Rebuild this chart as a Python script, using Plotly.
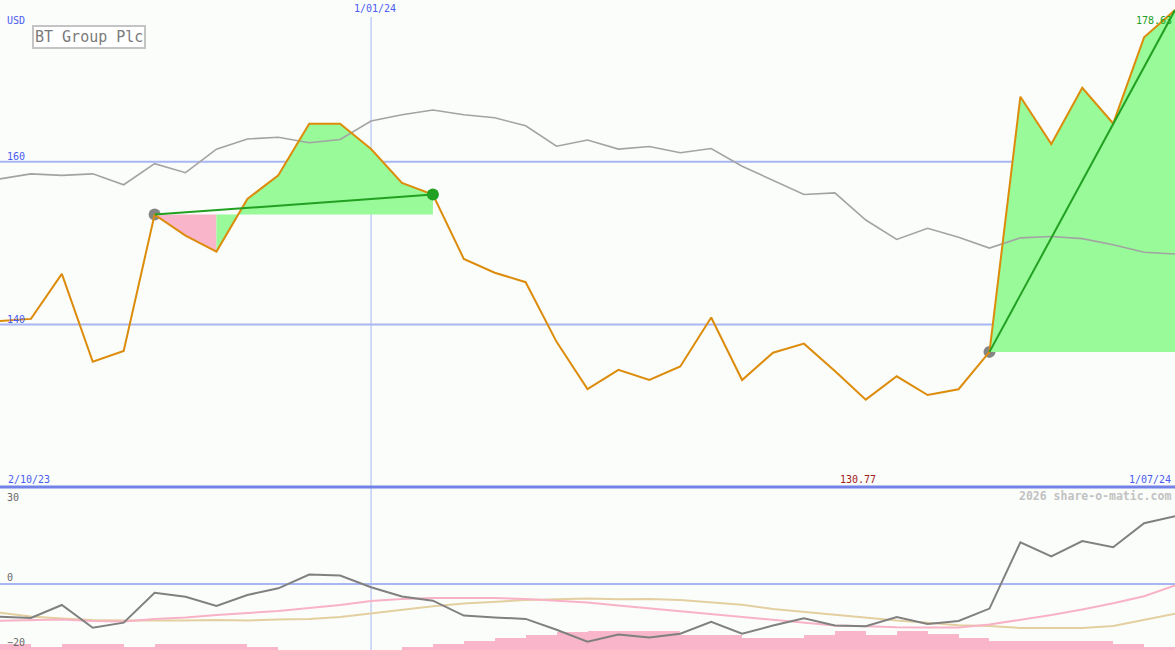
import plotly.graph_objects as go

# ---------------- data ----------------
date_labels = ["2/10/23", "1/01/24", "1/07/24"]
date_label_idx = [0, 12, 38]

price = [140.43, 140.69, 146.23, 135.42, 136.76, 153.51, 150.92, 148.96, 155.43, 158.33,
         164.68, 164.68, 161.56, 157.40, 155.97, 148.06, 146.36, 145.20, 137.87, 132.06,
         134.43, 133.18, 134.84, 140.86, 133.18, 136.54, 137.65, 134.30, 130.77, 133.64,
         131.34, 132.05, 136.64, 167.99, 162.17, 169.08, 164.70, 175.28, 178.63]

avg = [157.89, 158.51, 158.33, 158.51, 157.17, 159.77, 158.65, 161.55, 162.80, 163.00,
       162.33, 162.73, 165.01, 165.77, 166.35, 165.77, 165.40, 164.42, 161.90, 162.67,
       161.55, 161.87, 161.11, 161.63, 159.45, 157.75, 155.97, 156.17, 152.84, 150.45,
       151.83, 150.71, 149.39, 150.65, 150.81, 150.55, 149.79, 148.87, 148.67]

momentum = [-11.28, -11.72, -7.24, -15.07, -13.34, -3.00, -4.38, -7.59, -3.79, -1.48,
            3.28, 2.90, -1.14, -4.28, -5.76, -10.90, -11.55, -12.03, -15.79, -19.93,
            -17.41, -18.45, -17.17, -13.03, -17.17, -14.31, -11.79, -14.31, -14.55, -11.38,
            -13.79, -12.76, -8.48, 14.38, 9.52, 14.83, 12.66, 20.97, 23.38]

signal_pink = [-12.66, -12.40, -12.24, -12.76, -12.93, -12.07, -11.55, -10.69, -10.00, -9.31,
               -8.28, -7.24, -5.86, -5.17, -4.83, -4.83, -4.83, -5.17, -5.76, -6.38,
               -7.41, -8.41, -9.31, -10.28, -11.28, -12.41, -13.45, -14.31, -14.55, -14.93,
               -15.00, -15.00, -13.97, -12.41, -10.69, -8.79, -6.66, -4.21, -0.48]

signal_tan = [-9.90, -11.20, -11.90, -12.41, -12.59, -12.66, -12.59, -12.41, -12.59, -12.24,
              -12.07, -11.38, -10.17, -9.03, -7.66, -6.76, -6.14, -5.52, -5.28, -5.00,
              -5.28, -5.17, -5.52, -6.38, -7.14, -8.62, -9.66, -10.79, -11.79, -12.62,
              -13.34, -14.21, -14.48, -15.17, -15.17, -15.17, -14.48, -12.34, -10.21]

volume_bars = [2.07, 1.03, 2.07, 2.07, 1.03, 2.07, 2.07, 2.07, 1.03, 0.0,
               0.0, 0.0, 0.0, 1.03, 1.93, 3.21, 4.07, 5.07, 6.34, 6.55,
               6.55, 6.55, 5.07, 5.07, 4.07, 4.07, 5.07, 6.55, 5.07, 6.55,
               5.69, 4.24, 3.10, 3.10, 3.10, 3.10, 1.90, 1.10]

trend_start = [5, 32]
trend_end = [14, 38]
fill_from = [5, 7, 32]
fill_to = [7, 14, 38]
fill_base = [5, 5, 32]
fill_kind = ["down", "up", "up"]

grid_levels = [160, 140]

# ---------------- styling ----------------
W, H = 1175, 650
SPLIT = 487
BG = "#fbfdfb"
ORANGE = "#dc8c0a"
GRAY = "#a3a3a3"
GRID = "#a8b6f2"
SEP = "#7282e6"
GREEN_FILL = "#98fa98"
PINK_FILL = "#f9b5c9"
GREEN = "#22a022"
BLUE_TXT = "#4a5cf0"
FONT = "DejaVu Sans Mono"

main_range = [120.04, 179.87]
low_range = [-22.76, 33.45]
xr = [0, len(price) - 1]
split_paper = 1 - SPLIT / H

fig = go.Figure()
idx = list(range(len(price)))

# gray start markers (under fills)
for s in trend_start:
    fig.add_trace(go.Scatter(x=[s], y=[price[s]], mode="markers",
                             marker=dict(size=12, color="#858585"),
                             xaxis="x", yaxis="y"))

# fills between price and starting level
for a, b, base, kind in zip(fill_from, fill_to, fill_base, fill_kind):
    xs = list(range(a, b + 1))
    lvl = [price[base]] * len(xs)
    fig.add_trace(go.Scatter(x=xs, y=lvl, mode="lines", line=dict(width=0),
                             xaxis="x", yaxis="y"))
    fig.add_trace(go.Scatter(x=xs, y=[price[i] for i in xs], mode="lines",
                             line=dict(width=0), fill="tonexty",
                             fillcolor=PINK_FILL if kind == "down" else GREEN_FILL,
                             xaxis="x", yaxis="y"))

# moving average
fig.add_trace(go.Scatter(x=idx, y=avg, mode="lines", line=dict(color=GRAY, width=1.6),
                         xaxis="x", yaxis="y"))
# price
fig.add_trace(go.Scatter(x=idx, y=price, mode="lines", line=dict(color=ORANGE, width=2),
                         xaxis="x", yaxis="y"))
# trend lines
for s, e in zip(trend_start, trend_end):
    fig.add_trace(go.Scatter(x=[s, e], y=[price[s], price[e]], mode="lines",
                             line=dict(color=GREEN, width=2), xaxis="x", yaxis="y"))
# end marker for completed trend
fig.add_trace(go.Scatter(x=[trend_end[0]], y=[price[trend_end[0]]], mode="markers",
                         marker=dict(size=12, color=GREEN), xaxis="x", yaxis="y"))

# lower panel
fig.add_trace(go.Bar(x=[k + 0.5 for k in range(len(volume_bars))], y=volume_bars,
                     base=low_range[0], width=1, marker=dict(color=PINK_FILL, line=dict(width=0)),
                     xaxis="x2", yaxis="y2"))
fig.add_trace(go.Scatter(x=idx, y=signal_tan, mode="lines", line=dict(color="#e3cfa0", width=2),
                         xaxis="x2", yaxis="y2"))
fig.add_trace(go.Scatter(x=idx, y=signal_pink, mode="lines", line=dict(color="#f8b2c6", width=2),
                         xaxis="x2", yaxis="y2"))
fig.add_trace(go.Scatter(x=idx, y=momentum, mode="lines", line=dict(color="#808080", width=2),
                         xaxis="x2", yaxis="y2"))

shapes = []
for g in grid_levels:
    shapes.append(dict(type="line", xref="x", yref="y", x0=xr[0], x1=xr[1], y0=g, y1=g,
                       line=dict(color=GRID, width=2), layer="below"))
shapes.append(dict(type="line", xref="x2", yref="y2", x0=xr[0], x1=xr[1], y0=0, y1=0,
                   line=dict(color=GRID, width=2), layer="below"))
# year boundary vertical line
shapes.append(dict(type="line", xref="x", yref="paper", x0=date_label_idx[1], x1=date_label_idx[1],
                   y0=0, y1=1 - 17 / H, line=dict(color=GRID, width=1), layer="below"))
# panel separator
shapes.append(dict(type="line", xref="paper", yref="paper", x0=0, x1=1, y0=split_paper, y1=split_paper,
                   line=dict(color=SEP, width=3), layer="above"))

def px_x(p):
    return p / W

def px_y(p):
    return 1 - p / H

ann = []
def txt(text, x, y, xanchor="left", yanchor="middle", color=BLUE_TXT, size=10, xref="paper", yref="paper", **kw):
    ann.append(dict(text=text, x=x, y=y, xref=xref, yref=yref, xanchor=xanchor, yanchor=yanchor,
                    showarrow=False, font=dict(family=FONT, size=size, color=color), **kw))

txt("USD", px_x(5), px_y(20))
ann.append(dict(text="BT Group Plc", x=px_x(32), y=px_y(25), xref="paper", yref="paper",
                xanchor="left", yanchor="top", showarrow=False,
                font=dict(family=FONT, size=15, color="#7a7a7a"),
                bordercolor="#c4c4c4", borderwidth=2, borderpad=1, bgcolor="#ffffff"))
for g in grid_levels:
    txt(str(g), px_x(5), g, yref="y", yanchor="bottom", yshift=-2)
txt(date_labels[1], date_label_idx[1], px_y(8), xref="x", xanchor="center", xshift=4)
txt(f"{price[-1]:.2f}", px_x(1174), px_y(21), xanchor="right", color=GREEN)
txt(date_labels[0], px_x(6), px_y(479))
mi = min(range(len(price)), key=lambda i: price[i])
txt(f"{price[mi]:.2f}", mi, px_y(479), xref="x", xanchor="center", color="#a02020", xshift=-8)
txt(date_labels[2], px_x(1173), px_y(479), xanchor="right")
txt("<b>2026 share-o-matic.com</b>", px_x(1173), px_y(496), xanchor="right", color="#c2c2c2", size=11.5)
txt("30", px_x(5), 30, yref="y2", color="#6a6a6a")
txt("0", px_x(5), 0, yref="y2", yanchor="bottom", color="#6a6a6a", yshift=-1)
txt("\u221220", px_x(5), -20, yref="y2", color="#6a6a6a")

fig.update_layout(
    width=W, height=H, margin=dict(l=0, r=0, t=0, b=0),
    paper_bgcolor=BG, plot_bgcolor=BG, showlegend=False, hovermode=False,
    bargap=0,
    xaxis=dict(range=xr, visible=False, anchor="y", domain=[0, 1]),
    xaxis2=dict(range=xr, visible=False, anchor="y2", domain=[0, 1], matches="x"),
    yaxis=dict(range=main_range, visible=False, domain=[split_paper, 1]),
    yaxis2=dict(range=low_range, visible=False, domain=[0, split_paper]),
    shapes=shapes, annotations=ann,
)

fig.write_html("out.html", config={"displayModeBar": False},
               post_script="document.body.style.margin='0';document.body.style.padding='0';document.body.style.overflow='hidden';document.body.style.background='" + BG + "';")
